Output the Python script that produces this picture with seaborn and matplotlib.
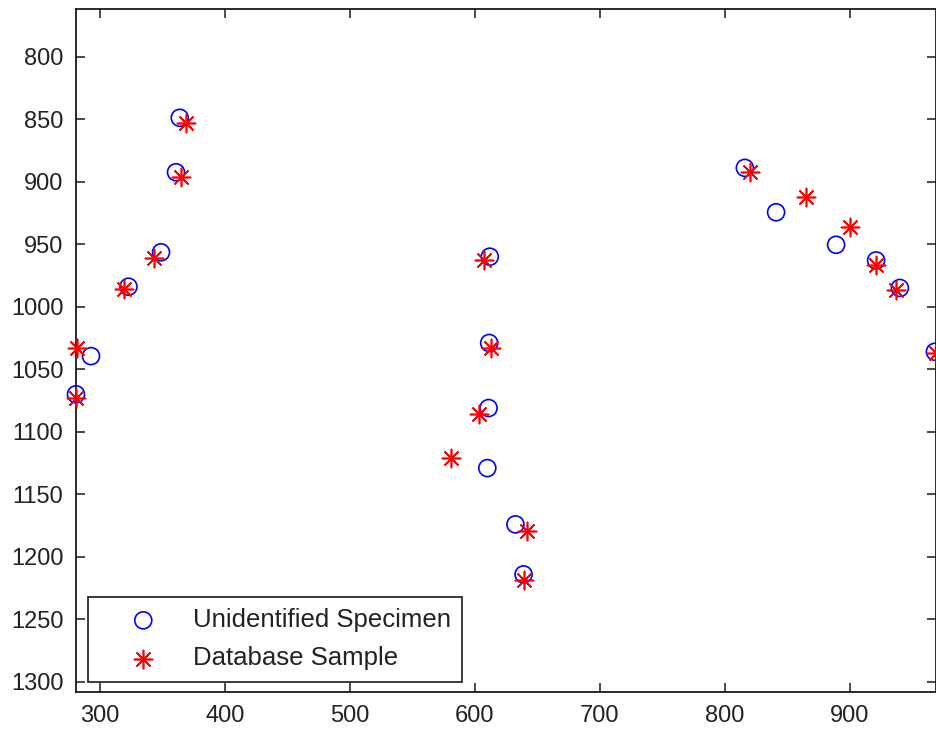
import matplotlib
matplotlib.use("Agg")
import matplotlib.pyplot as plt
import seaborn as sns

# Unidentified specimen (blue circles)
spec_x = [364, 361, 349, 323, 293, 281, 612, 611.5, 611, 610, 632.5, 639, 816, 841, 889, 921, 940, 968]
spec_y = [849, 892.5, 956.5, 984, 1039.5, 1070, 960, 1029, 1081, 1129, 1174, 1214, 889, 924.5, 950.5, 963, 985, 1036]

# Database sample (red asterisks)
db_x = [369, 365, 343, 319, 282, 281, 607, 613, 603.5, 581, 642, 639, 820, 865, 900, 921, 937, 969]
db_y = [853, 896, 961, 986, 1033, 1073, 963, 1033, 1086, 1121, 1179, 1218.5, 892.5, 912, 936, 966.5, 987, 1037]

x_ticks = [300, 400, 500, 600, 700, 800, 900]
y_ticks = [800, 850, 900, 950, 1000, 1050, 1100, 1150, 1200, 1250, 1300]

sns.set_style("white")
plt.rcParams["font.family"] = ["Liberation Sans", "DejaVu Sans"]

fig = plt.figure(figsize=(9.36, 7.3), dpi=100)
ax = fig.add_axes([76 / 936, 38 / 730, (935.5 - 76) / 936, 683 / 730])

sns.scatterplot(x=spec_x, y=spec_y, ax=ax, marker="o", s=150, color="blue",
                facecolor="none", edgecolor="blue", linewidth=1.2,
                clip_on=False, label="Unidentified Specimen", zorder=3)
sns.scatterplot(x=db_x, y=db_y, ax=ax, marker=(8, 2, 0), s=170, color="red",
                linewidth=1.2, clip_on=False, label="Database Sample", zorder=4)

ax.set_xlim(281, 968.5)
ax.set_ylim(1308, 762)
ax.set_xticks(x_ticks)
ax.set_yticks(y_ticks)

for side in ["left", "right", "top", "bottom"]:
    ax.spines[side].set_visible(True)
    ax.spines[side].set_color("#1a1a1a")
    ax.spines[side].set_linewidth(1.3)

ax.tick_params(direction="in", length=6.5, width=1.1, color="#1a1a1a",
               labelsize=17, labelcolor="#222222", pad=9,
               top=True, right=True, bottom=True, left=True)

leg = ax.legend(loc="lower left", bbox_to_anchor=(0.014, 0.0146), borderaxespad=0,
                fontsize=18.5, frameon=True, fancybox=False, framealpha=1,
                edgecolor="#1a1a1a", borderpad=0.45, handlelength=3.4,
                handletextpad=0.22, labelspacing=0.56, scatterpoints=1)
leg.get_frame().set_linewidth(1.2)
for t in leg.get_texts():
    t.set_color("#222222")

fig.savefig("out.png", dpi=100)
